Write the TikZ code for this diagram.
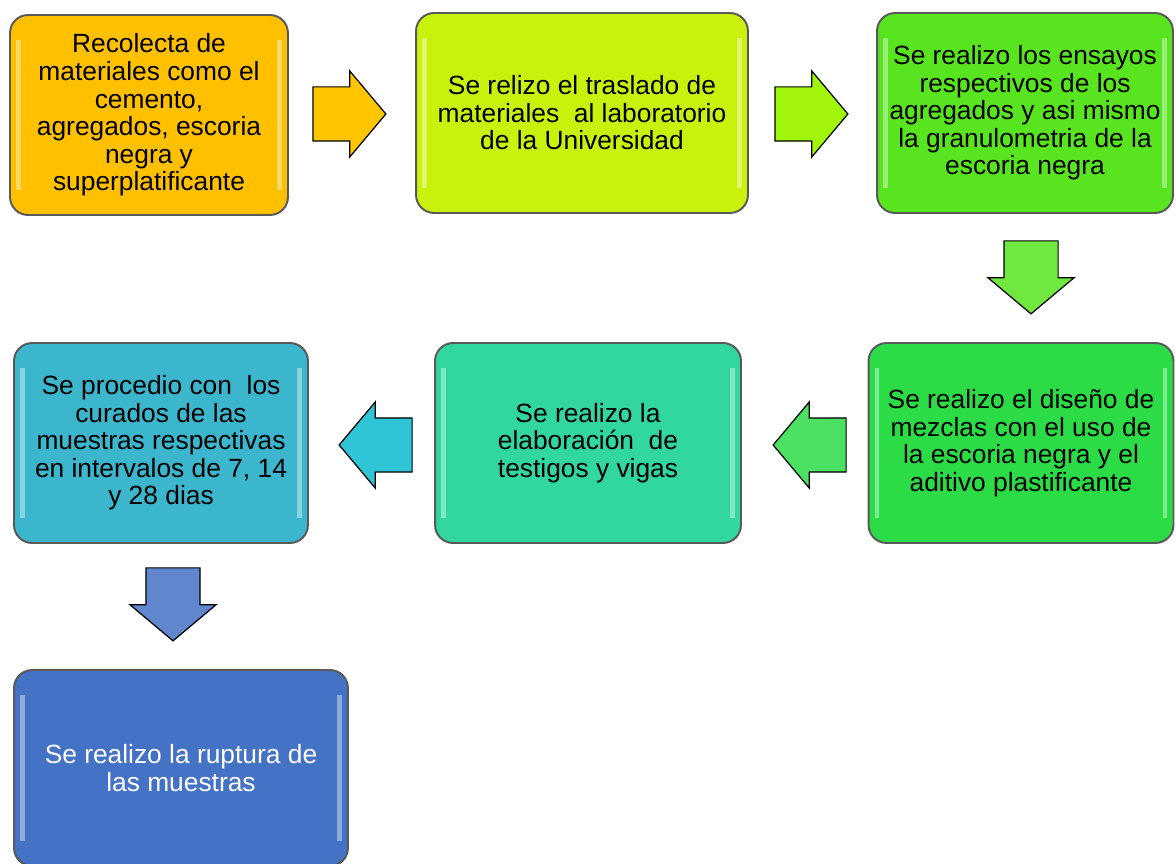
\documentclass[tikz,border=0pt]{standalone}
\usepackage{fontspec}
\setmainfont{Liberation Sans}
\usetikzlibrary{shapes.arrows}

\definecolor{naranja}{HTML}{FFC000}
\definecolor{lima}{HTML}{C8F20C}
\definecolor{verdeA}{HTML}{58E41E}
\definecolor{verdeB}{HTML}{2CDC46}
\definecolor{turquesa}{HTML}{31D6A0}
\definecolor{celeste}{HTML}{3BB6CC}
\definecolor{azul}{HTML}{4472C4}

\begin{document}
\begin{tikzpicture}[x=0.02cm, y=-0.02cm,
    every node/.style={font=\fontsize{15}{15.7}\selectfont},
    box/.style={rectangle, rounded corners=0.36cm, draw=black!65, line width=1.1pt, align=center, minimum height=4cm,
        path picture={\draw[white, opacity=0.4, line width=2.5pt]
            ([xshift=0.17cm, yshift=-0.5cm]path picture bounding box.north west) -- ([xshift=0.17cm, yshift=0.5cm]path picture bounding box.south west)
            ([xshift=-0.17cm, yshift=-0.5cm]path picture bounding box.north east) -- ([xshift=-0.17cm, yshift=0.5cm]path picture bounding box.south east);}},
    flecha/.style={single arrow, draw=black, line width=0.7pt, inner xsep=0pt, inner ysep=0.53cm, minimum height=1.46cm, minimum width=1.7cm, single arrow head extend=0.32cm, single arrow tip angle=100}]
			\useasboundingbox (0,0) rectangle (1176,864);
			% Boxes
			\node[box, fill=naranja, minimum width=5.56cm] (b1) at (149,115) {Recolecta de\\materiales como el\\cemento,\\agregados, escoria\\negra y\\superplatificante};
			\node[box, fill=lima, minimum width=6.64cm] (b2) at (582,113) {Se relizo el traslado de\\materiales\ \ al laboratorio\\de la Universidad};
			\node[box, fill=verdeA, minimum width=5.92cm] (b3) at (1025,113) {Se realizo los ensayos\\respectivos de los\\agregados y asi mismo\\la granulometria de la\\escoria negra};
			\node[box, fill=verdeB, minimum width=6.1cm] (b4) at (1021,443) {Se realizo el diseño de\\mezclas con el uso de\\la escoria negra y el\\aditivo plastificante};
			\node[box, fill=turquesa, minimum width=6.12cm] (b5) at (588,443) {Se realizo la\\elaboración\ \ de\\testigos y vigas};
			\node[box, fill=celeste, minimum width=5.88cm] (b6) at (161,443) {Se procedio con\ \ los\\curados de las\\muestras respectivas\\en intervalos de 7, 14\\y 28 dias};
			\node[box, fill=azul, text=white, minimum width=6.68cm, minimum height=3.92cm] (b7) at (181,768) {Se realizo la ruptura de\\las muestras};

			% Arrows
			\node[flecha, fill=naranja!90!yellow] (f1) at (338,114) {};
			\node[flecha, fill=lima!80!green] (f2) at (800,114) {};
			\node[flecha, fill=verdeA!85!white, rotate=-90] (f3) at (1031,266) {};
			\node[flecha, fill=verdeB!85!white, rotate=180] (f4) at (821,445) {};
			\node[flecha, fill=celeste!80!cyan, rotate=180] (f5) at (387,445) {};
			\node[flecha, fill=azul!85!white, rotate=-90] (f6) at (173,593) {};
		\end{tikzpicture}
\end{document}
